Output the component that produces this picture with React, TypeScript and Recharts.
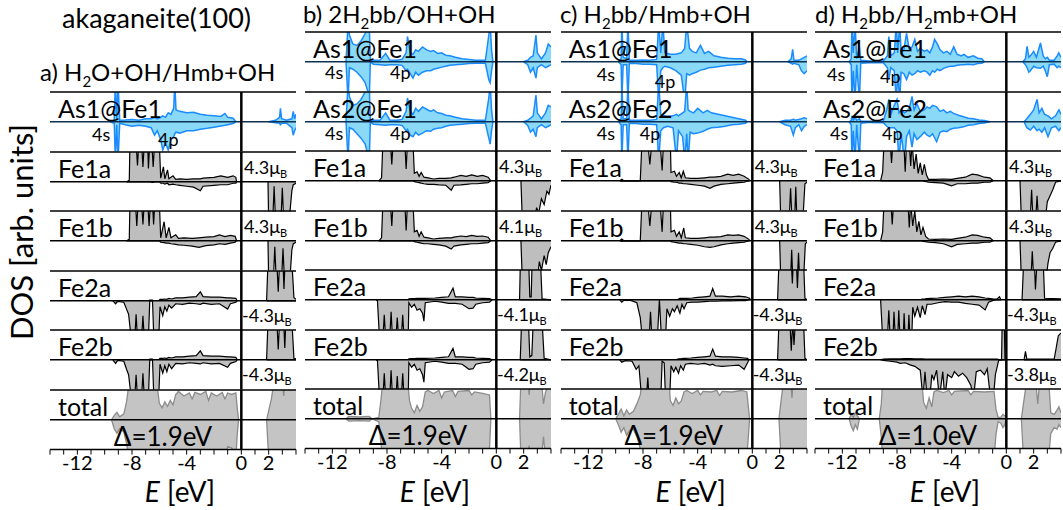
import React from "react";
import { ComposedChart, Area, XAxis, YAxis, ReferenceLine } from "recharts";

// each point: [E (eV), spin-up DOS, spin-down DOS]; |DOS| > 1 runs off the row and is clipped
type Pt = [number, number | null, number | null];

const eTicks = [-14, -13, -12, -11, -10, -9, -8, -7, -6, -5, -4, -3, -2, -1, 0, 1, 2, 3, 4];
const eLabels = [-12, -8, -4, 0, 2];
const dosTicks = [-0.75, -0.5, -0.25, 0, 0.25, 0.5, 0.75];

// ---------- a) H2O+OH/Hmb+OH ----------
const aAs1: Pt[] = [
  [-9.6, 0, 0], [-9.3, 0.05, -0.05], [-9.22, 1.3, -1.3], [-9.12, 0.1, -0.1], [-9.02, 1.3, -1.3], [-8.9, 0.05, -0.05],
  [-8.5, 0.06, -0.1], [-8.0, 0.08, -0.15], [-7.5, 0.05, -0.12], [-7.0, 0.1, -0.15], [-6.6, 0.1, -0.2], [-6.35, 0.15, -0.45],
  [-6.15, 0.1, -0.3], [-5.9, 0.15, -0.6], [-5.75, 0.2, -0.95], [-5.55, 0.15, -0.7], [-5.35, 0.3, -0.95], [-5.15, 0.25, -0.6],
  [-4.95, 0.45, -0.5], [-4.87, 1.3, -0.4], [-4.78, 0.4, -0.35], [-4.5, 0.35, -0.38], [-4.0, 0.3, -0.3], [-3.5, 0.32, -0.3],
  [-3.0, 0.25, -0.25], [-2.5, 0.22, -0.22], [-2.0, 0.2, -0.18], [-1.5, 0.18, -0.14], [-1.2, 0.28, -0.12], [-1.0, 0.15, -0.1],
  [-0.6, 0.12, -0.06], [-0.4, 0, 0], [-0.3, null, null],
  [2.0, 0, 0], [2.5, 0.05, -0.03], [2.8, 0.15, -0.05], [2.86, 0.45, -0.1], [2.95, 0.1, -0.05], [3.3, 0.05, -0.05],
  [3.7, 0.1, -0.2], [3.8, 0.35, -0.45], [3.9, 0.1, -0.3], [4.0, 0.25, -0.2],
];
const aFe1a: Pt[] = [
  [-8.4, 0, 0], [-8.2, 0.05, 0], [-8.15, 1.3, 0], [-7.7, 1.3, 0], [-7.6, 0.55, 0], [-7.5, 1.3, 0], [-7.3, 1.3, 0],
  [-7.2, 0.5, 0], [-7.1, 1.3, 0], [-6.85, 1.3, 0], [-6.8, 0.45, 0], [-6.7, 1.3, 0], [-6.55, 1.3, -0.02], [-6.45, 0.5, -0.02],
  [-6.35, 1.3, 0], [-6.0, 1.3, 0], [-5.9, 0.12, -0.05], [-5.7, 0.5, -0.05], [-5.6, 0.1, -0.08], [-5.4, 0.4, -0.05],
  [-5.3, 0.1, -0.1], [-5.0, 0.2, -0.08], [-4.8, 0.08, -0.1], [-4.5, 0.1, -0.12], [-4.0, 0.08, -0.15], [-3.5, 0.1, -0.18],
  [-3.0, 0.1, -0.3], [-2.8, 0.12, -0.15], [-2.0, 0.15, -0.12], [-1.5, 0.2, -0.1], [-1.0, 0.15, -0.1], [-0.6, 0.2, -0.05],
  [-0.4, 0.15, -0.05], [-0.35, 0, 0], [-0.3, null, null],
  [1.95, 0, 0], [2.0, 0, -1.3], [2.3, 0, -1.3], [2.4, 0, -0.15], [2.5, 0, -1.3], [2.9, 0, -1.3], [3.0, 0, -0.2],
  [3.1, 0, -1.3], [3.5, 0, -1.3], [3.7, 0, -0.3], [3.8, 0, -0.1], [4.0, 0, -0.05],
];
const aFe1b: Pt[] = [
  [-8.4, 0, 0], [-8.2, 0.05, 0], [-8.15, 1.3, 0], [-7.75, 1.3, 0], [-7.65, 0.5, 0], [-7.55, 1.3, 0], [-7.3, 1.3, 0],
  [-7.2, 0.55, 0], [-7.1, 1.3, 0], [-6.85, 1.3, 0], [-6.75, 0.5, 0], [-6.65, 1.3, 0], [-6.5, 1.3, 0], [-6.42, 0.55, 0],
  [-6.33, 1.3, 0], [-6.0, 1.3, 0], [-5.9, 0.1, -0.05], [-5.65, 0.64, -0.06], [-5.5, 0.1, -0.08], [-5.3, 0.45, -0.08],
  [-5.15, 0.1, -0.1], [-4.8, 0.2, -0.12], [-4.6, 0.08, -0.14], [-4.2, 0.1, -0.15], [-3.6, 0.08, -0.18], [-3.1, 0.1, -0.22],
  [-2.6, 0.12, -0.16], [-2.0, 0.14, -0.14], [-1.6, 0.2, -0.1], [-1.2, 0.14, -0.12], [-0.8, 0.18, -0.08], [-0.45, 0.15, -0.05],
  [-0.35, 0, 0], [-0.3, null, null],
  [1.95, 0, 0], [2.0, 0, -1.3], [2.35, 0, -1.3], [2.45, 0, -0.2], [2.55, 0, -1.3], [2.95, 0, -1.3], [3.05, 0, -0.25],
  [3.15, 0, -1.3], [3.55, 0, -1.3], [3.7, 0, -0.3], [3.8, 0, -0.1], [4.0, 0, -0.05],
];
const aFe2a: Pt[] = [
  [-9.4, 0, 0], [-9.2, 0, -0.1], [-9.05, 0, -0.02], [-8.6, 0, -0.05], [-8.4, 0, -0.28], [-8.25, 0, -0.45], [-8.05, 0, -1.3],
  [-7.8, 0, -1.3], [-7.7, 0, -0.45], [-7.6, 0, -1.3], [-7.3, 0, -1.3], [-7.2, 0, -0.5], [-7.1, 0, -1.3], [-6.8, 0, -1.3],
  [-6.7, 0.02, 0], [-6.5, 0.02, 0], [-6.4, 0, -1.3], [-6.05, 0, -1.3], [-5.95, 0.05, -0.2], [-5.75, 0.05, -0.5],
  [-5.6, 0.06, -0.2], [-5.45, 0.05, -0.35], [-5.3, 0.08, -0.15], [-5.1, 0.06, -0.25], [-4.8, 0.1, -0.1], [-4.3, 0.1, -0.12],
  [-3.8, 0.12, -0.08], [-3.3, 0.14, -0.1], [-3.0, 0.3, -0.12], [-2.8, 0.14, -0.08], [-2.2, 0.12, -0.12], [-1.6, 0.12, -0.1],
  [-1.0, 0.1, -0.28], [-0.8, 0.1, -0.1], [-0.4, 0.08, -0.05], [-0.3, 0, 0], [-0.25, null, null],
  [1.85, 0, 0], [1.95, 1.3, 0], [2.6, 1.3, 0], [2.7, 0.3, 0], [2.8, 1.3, 0], [3.05, 1.3, 0], [3.12, 0.4, 0], [3.2, 1.3, 0],
  [3.7, 1.3, 0], [3.85, 0.1, 0], [4.0, 0.05, 0],
];
const aFe2b: Pt[] = [
  [-9.4, 0, 0], [-9.2, 0, -0.12], [-9.05, 0, -0.02], [-8.6, 0, -0.05], [-8.4, 0, -0.32], [-8.25, 0, -0.5], [-8.05, 0, -1.3],
  [-7.8, 0, -1.3], [-7.7, 0, -0.5], [-7.6, 0, -1.3], [-7.3, 0, -1.3], [-7.2, 0, -0.45], [-7.1, 0, -1.3], [-6.8, 0, -1.3],
  [-6.7, 0.02, 0], [-6.5, 0.02, 0], [-6.4, 0, -1.3], [-6.05, 0, -1.3], [-5.95, 0.05, -0.15], [-5.75, 0.05, -0.45],
  [-5.6, 0.06, -0.2], [-5.45, 0.05, -0.4], [-5.3, 0.08, -0.15], [-5.1, 0.06, -0.3], [-4.8, 0.1, -0.12], [-4.3, 0.1, -0.14],
  [-3.8, 0.12, -0.1], [-3.3, 0.14, -0.12], [-3.0, 0.3, -0.14], [-2.8, 0.14, -0.1], [-2.2, 0.12, -0.14], [-1.6, 0.12, -0.12],
  [-1.0, 0.1, -0.25], [-0.8, 0.1, -0.12], [-0.4, 0.08, -0.06], [-0.3, 0, 0], [-0.25, null, null],
  [1.85, 0, 0], [1.95, 1.3, 0], [2.6, 1.3, 0], [2.7, 0.35, 0], [2.8, 1.3, 0], [3.1, 1.3, 0], [3.18, 0.4, 0], [3.26, 1.3, 0],
  [3.7, 1.3, 0], [3.85, 0.05, 0], [4.0, 0.03, 0],
];
const aTot: Pt[] = [
  [-9.5, 0, 0], [-9.3, 0.15, -0.3], [-9.1, 0.25, -0.45], [-8.9, 0.1, -0.3], [-8.6, 0.2, -0.4], [-8.4, 0.6, -0.8],
  [-8.2, 1.3, -1.3], [-6.2, 1.3, -1.3], [-6.0, 0.55, -1.3], [-5.8, 0.4, -1.3], [-5.6, 0.6, -1.3], [-5.4, 0.45, -1.3],
  [-5.2, 0.65, -1.3], [-5.0, 0.5, -1.3], [-4.8, 0.85, -1.3], [-4.6, 0.95, -1.3], [-4.2, 0.8, -1.3], [-3.8, 0.9, -1.3],
  [-3.6, 0.7, -1.3], [-3.4, 0.92, -1.3], [-3.0, 0.85, -1.3], [-2.6, 0.95, -1.3], [-2.4, 0.65, -1.3], [-2.2, 0.9, -1.3],
  [-1.8, 0.8, -1.3], [-1.4, 0.92, -1.3], [-1.2, 0.7, -1.3], [-1.0, 0.9, -0.9], [-0.7, 0.85, -0.95], [-0.4, 0.9, -1.3],
  [-0.3, 0.4, -0.5], [-0.2, 0, 0], [-0.15, null, null],
  [1.85, 0, 0], [2.0, 0.3, -1.3], [2.2, 0.7, -1.3], [2.4, 1.3, -1.3], [3.0, 1.3, -1.3], [3.1, 0.8, -1.3], [3.2, 1.3, -1.3],
  [4.0, 1.3, -1.3],
];

// ---------- b) 2H2bb/OH+OH ----------
const bAs1: Pt[] = [
  [-11.0, 0, 0], [-10.85, 1.3, -1.3], [-10.75, 0.9, -0.2], [-10.5, 0.6, -0.25], [-10.2, 0.55, -0.35], [-9.9, 0.7, -0.5],
  [-9.6, 0.95, -0.7], [-9.4, 1.3, -1.0], [-9.3, 1.3, -1.3], [-9.22, 0, 0], [-9.0, 0.05, -0.08], [-8.5, 0.06, -0.1],
  [-8.1, 0.28, -0.12], [-7.8, 0.06, -0.1], [-7.3, 0.05, -0.1], [-6.9, 0.08, -0.12], [-6.6, 0.3, -0.3], [-6.5, 0.85, -0.25],
  [-6.3, 0.3, -0.4], [-6.1, 0.25, -0.55], [-5.9, 0.4, -0.35], [-5.7, 0.35, -0.45], [-5.4, 0.5, -0.35], [-5.1, 0.4, -0.3],
  [-4.8, 0.35, -0.3], [-4.6, 0.38, -0.25], [-4.3, 0.28, -0.22], [-4.0, 0.3, -0.18], [-3.7, 0.22, -0.15], [-3.4, 0.2, -0.12],
  [-3.0, 0.15, -0.1], [-2.5, 0.1, -0.08], [-2.0, 0.08, -0.06], [-1.5, 0.05, -0.05], [-0.8, 0.05, -0.05], [-0.55, 0.9, -0.6],
  [-0.45, 1.3, -0.7], [-0.35, 0.4, -0.3], [-0.25, 0, 0], [-0.2, null, null],
  [2.0, 0, 0], [2.3, 0.05, -0.1], [2.5, 0.15, -0.35], [2.7, 0.2, -0.2], [2.9, 0.9, -0.55], [3.0, 0.3, -0.2], [3.3, 0.1, -0.1],
  [3.6, 0.3, -0.2], [3.8, 0.6, -0.15], [4.0, 0.5, -0.1],
];
const bAs2: Pt[] = [
  [-11.0, 0, 0], [-10.85, 1.3, -1.3], [-10.75, 0.85, -0.2], [-10.5, 0.55, -0.25], [-10.2, 0.6, -0.4], [-9.9, 0.75, -0.55],
  [-9.6, 1.0, -0.75], [-9.4, 1.3, -1.1], [-9.3, 1.3, -1.3], [-9.22, 0, 0], [-9.0, 0.05, -0.08], [-8.5, 0.05, -0.1],
  [-8.1, 0.3, -0.12], [-7.8, 0.06, -0.1], [-7.3, 0.05, -0.1], [-6.9, 0.08, -0.12], [-6.6, 0.35, -0.3], [-6.5, 0.8, -0.25],
  [-6.3, 0.35, -0.45], [-6.1, 0.25, -0.5], [-5.9, 0.45, -0.35], [-5.7, 0.35, -0.45], [-5.4, 0.5, -0.38], [-5.1, 0.42, -0.3],
  [-4.8, 0.35, -0.32], [-4.6, 0.4, -0.25], [-4.3, 0.3, -0.22], [-4.0, 0.28, -0.2], [-3.7, 0.22, -0.15], [-3.4, 0.2, -0.12],
  [-3.0, 0.15, -0.1], [-2.5, 0.1, -0.08], [-2.0, 0.08, -0.06], [-1.5, 0.05, -0.05], [-0.8, 0.05, -0.05], [-0.55, 0.8, -0.55],
  [-0.45, 1.3, -0.75], [-0.35, 0.4, -0.3], [-0.25, 0, 0], [-0.2, null, null],
  [2.0, 0, 0], [2.3, 0.05, -0.12], [2.5, 0.12, -0.35], [2.7, 0.2, -0.25], [2.9, 0.9, -0.5], [3.0, 0.3, -0.2], [3.3, 0.1, -0.1],
  [3.6, 0.3, -0.2], [3.8, 0.55, -0.15], [4.0, 0.5, -0.1],
];
const bFe1a: Pt[] = [
  [-8.6, 0, 0], [-8.4, 0.1, 0], [-8.3, 1.3, 0], [-7.75, 1.3, 0], [-7.65, 0.55, 0], [-7.55, 1.3, 0], [-6.7, 1.3, 0],
  [-6.6, 0.4, 0], [-6.5, 1.3, 0], [-6.1, 1.3, 0], [-6.0, 0.25, -0.03], [-5.8, 0.3, -0.05], [-5.65, 0.15, -0.06],
  [-5.5, 0.28, -0.08], [-5.3, 0.12, -0.1], [-5.0, 0.1, -0.12], [-4.6, 0.06, -0.12], [-4.2, 0.08, -0.14], [-3.7, 0.08, -0.15],
  [-3.3, 0.1, -0.32], [-3.1, 0.12, -0.15], [-2.6, 0.18, -0.14], [-2.2, 0.15, -0.12], [-1.8, 0.2, -0.1], [-1.4, 0.15, -0.1],
  [-1.0, 0.18, -0.08], [-0.6, 0.12, -0.06], [-0.4, 0, 0], [-0.3, null, null],
  [1.8, 0, 0], [1.9, 0, -1.3], [2.8, 0, -1.3], [2.95, 0, -0.9], [3.1, 0, -1.1], [3.3, 0, -0.6], [3.5, 0, -0.8],
  [3.7, 0, -0.35], [3.85, 0, -0.45], [4.0, 0, -0.15],
];
const bFe1b: Pt[] = [
  [-8.6, 0, 0], [-8.4, 0.1, 0], [-8.3, 1.3, 0], [-7.75, 1.3, 0], [-7.65, 0.5, 0], [-7.55, 1.3, 0], [-6.7, 1.3, 0],
  [-6.6, 0.35, 0], [-6.5, 1.3, 0], [-6.1, 1.3, 0], [-6.0, 0.3, -0.03], [-5.8, 0.35, -0.05], [-5.65, 0.15, -0.06],
  [-5.5, 0.3, -0.08], [-5.3, 0.12, -0.1], [-5.0, 0.1, -0.1], [-4.6, 0.06, -0.12], [-4.2, 0.08, -0.14], [-3.7, 0.1, -0.18],
  [-3.3, 0.1, -0.28], [-3.1, 0.12, -0.18], [-2.6, 0.16, -0.14], [-2.2, 0.14, -0.12], [-1.8, 0.18, -0.1], [-1.4, 0.15, -0.1],
  [-1.0, 0.16, -0.08], [-0.6, 0.12, -0.06], [-0.4, 0, 0], [-0.3, null, null],
  [1.8, 0, 0], [1.9, 0, -1.3], [3.0, 0, -1.3], [3.15, 0, -0.7], [3.3, 0, -1.0], [3.5, 0, -0.5], [3.65, 0, -0.8],
  [3.8, 0, -0.4], [4.0, 0, -0.2],
];
const bFe2a: Pt[] = [
  [-8.8, 0, 0], [-8.7, 0, -0.02], [-8.55, 0, -1.3], [-8.3, 0, -1.3], [-8.2, 0, -0.5], [-8.1, 0, -1.3], [-7.8, 0, -1.3],
  [-7.7, 0, -0.4], [-7.6, 0, -1.3], [-7.35, 0, -1.3], [-7.25, 0, -0.6], [-7.15, 0, -1.3], [-6.95, 0, -1.3], [-6.85, 0, -0.5],
  [-6.75, 0, -1.3], [-6.45, 0, -1.3], [-6.4, 0.03, -0.1], [-6.2, 0.04, -0.25], [-6.0, 0.04, -0.15], [-5.8, 0.05, -0.35],
  [-5.6, 0.05, -0.3], [-5.4, 0.05, -0.45], [-5.3, 0.05, -0.72], [-5.2, 0.05, -0.1], [-4.5, 0.06, -0.05], [-4.0, 0.08, -0.08],
  [-3.5, 0.1, -0.12], [-3.17, 0.39, -0.12], [-3.0, 0.1, -0.12], [-2.5, 0.1, -0.15], [-2.0, 0.08, -0.3], [-1.7, 0.08, -0.28],
  [-1.5, 0.06, -0.15], [-1.0, 0.05, -0.1], [-0.5, 0.04, -0.08], [-0.3, 0, 0], [-0.25, null, null],
  [1.7, 0, 0], [1.76, 1.3, 0], [2.37, 1.3, 0], [2.45, 0.1, 0], [2.55, 0.1, 0], [2.62, 1.3, 0], [3.23, 1.3, 0],
  [3.35, 0.03, 0], [4.0, 0, 0],
];
const bFe2b: Pt[] = [
  [-8.8, 0, 0], [-8.7, 0, -0.02], [-8.55, 0, -1.3], [-8.3, 0, -1.3], [-8.2, 0, -0.45], [-8.1, 0, -1.3], [-7.8, 0, -1.3],
  [-7.7, 0, -0.35], [-7.6, 0, -1.3], [-7.35, 0, -1.3], [-7.25, 0, -0.55], [-7.15, 0, -1.3], [-6.95, 0, -1.3], [-6.85, 0, -0.45],
  [-6.75, 0, -1.3], [-6.45, 0, -1.3], [-6.4, 0.03, -0.1], [-6.2, 0.04, -0.25], [-6.0, 0.04, -0.15], [-5.8, 0.05, -0.35],
  [-5.6, 0.05, -0.3], [-5.4, 0.05, -0.5], [-5.3, 0.05, -0.75], [-5.2, 0.05, -0.1], [-4.5, 0.06, -0.05], [-4.0, 0.08, -0.08],
  [-3.5, 0.1, -0.12], [-3.17, 0.38, -0.12], [-3.0, 0.1, -0.12], [-2.5, 0.1, -0.15], [-2.0, 0.08, -0.32], [-1.7, 0.08, -0.3],
  [-1.5, 0.06, -0.15], [-1.0, 0.05, -0.1], [-0.5, 0.04, -0.08], [-0.3, 0, 0], [-0.25, null, null],
  [1.75, 0, 0], [1.85, 1.3, 0], [2.35, 1.3, 0], [2.45, 0.1, 0], [2.6, 0.15, 0], [2.7, 1.3, 0], [3.35, 1.3, 0],
  [3.5, 0.05, 0], [4.0, 0, 0],
];
const bTot: Pt[] = [
  [-11.0, 0, 0], [-10.8, 0.08, -0.08], [-10.0, 0.06, -0.06], [-9.3, 0.08, -0.08], [-9.1, 0, 0], [-8.6, 0.05, -0.1],
  [-8.45, 0.6, -0.8], [-8.3, 1.3, -1.3], [-6.5, 1.3, -1.3], [-6.35, 0.6, -1.3], [-6.2, 0.35, -1.3], [-6.0, 0.2, -1.3],
  [-5.8, 0.45, -1.3], [-5.6, 0.25, -1.3], [-5.4, 0.4, -1.3], [-5.2, 0.9, -1.3], [-5.0, 0.95, -1.3], [-4.6, 0.85, -1.3],
  [-4.2, 0.95, -1.3], [-4.0, 0.7, -1.3], [-3.8, 0.9, -1.3], [-3.2, 0.95, -1.3], [-3.0, 0.75, -1.3], [-2.8, 0.92, -1.3],
  [-2.0, 0.95, -1.3], [-1.8, 0.8, -1.3], [-1.6, 0.9, -1.3], [-1.0, 0.85, -1.3], [-0.5, 0.8, -1.0], [-0.4, 0, 0],
  [-0.35, null, null],
  [1.7, 0, 0], [1.8, 1.3, -1.3], [2.3, 1.3, -1.3], [2.4, 0.8, -0.9], [2.5, 1.3, -1.3], [3.3, 1.3, -1.3], [3.45, 0.5, -0.6],
  [3.6, 0.9, -1.3], [4.0, 1.3, -1.3],
];

// ---------- c) H2bb/Hmb+OH ----------
const cAs1: Pt[] = [
  [-9.8, 0, 0], [-9.6, 0.1, -0.1], [-9.55, 1.3, -1.3], [-9.45, 0.15, -0.1], [-9.2, 0.1, -0.1], [-9.1, 1.3, -1.3],
  [-9.0, 0.05, -0.05], [-8.5, 0.05, -0.06], [-8.0, 0.06, -0.08], [-7.5, 0.05, -0.08], [-7.0, 0.08, -0.1], [-6.85, 1.3, -1.3],
  [-6.7, 0.3, -0.3], [-6.55, 1.3, -0.2], [-6.4, 0.3, -0.15], [-6.0, 0.25, -0.2], [-5.6, 0.25, -0.3], [-5.2, 0.3, -0.45],
  [-4.95, 0.45, -1.3], [-4.8, 1.3, -0.4], [-4.6, 0.45, -0.45], [-4.4, 0.35, -0.4], [-4.1, 0.3, -0.35], [-3.8, 0.55, -0.28],
  [-3.5, 0.28, -0.25], [-3.2, 0.35, -0.2], [-2.8, 0.2, -0.18], [-2.3, 0.15, -0.15], [-1.8, 0.12, -0.12], [-1.3, 0.1, -0.1],
  [-0.8, 0.1, -0.08], [-0.5, 0.06, -0.05], [-0.4, 0, 0], [-0.35, null, null],
  [2.6, 0, 0], [2.85, 0.1, -0.05], [2.95, 0.42, -0.08], [3.05, 0.05, -0.05], [3.4, 0.05, -0.1], [3.6, 0.1, -0.3],
  [3.8, 0.15, -0.4], [4.0, 0.2, -0.3],
];
const cAs2: Pt[] = [
  [-9.8, 0, 0], [-9.6, 0.1, -0.1], [-9.55, 1.3, -1.3], [-9.45, 0.1, -0.1], [-9.2, 0.1, -0.1], [-9.1, 1.3, -1.3],
  [-9.0, 0.05, -0.05], [-8.5, 0.05, -0.06], [-8.0, 0.05, -0.08], [-7.5, 0.05, -0.08], [-7.0, 0.08, -0.1], [-6.85, 1.3, -1.3],
  [-6.7, 0.25, -0.3], [-6.5, 0.2, -0.2], [-6.2, 0.18, -0.15], [-5.8, 0.2, -0.2], [-5.55, 0.25, -1.3], [-5.4, 0.2, -0.3],
  [-5.1, 0.3, -0.5], [-4.95, 0.35, -1.3], [-4.8, 1.3, -0.4], [-4.7, 0.4, -1.3], [-4.55, 0.35, -0.35], [-4.3, 0.3, -0.4],
  [-4.0, 0.45, -0.38], [-3.6, 0.3, -0.32], [-3.3, 0.38, -0.25], [-3.0, 0.3, -0.2], [-2.5, 0.25, -0.18], [-2.0, 0.2, -0.15],
  [-1.5, 0.15, -0.1], [-1.0, 0.1, -0.08], [-0.5, 0.05, -0.05], [-0.4, 0, 0], [-0.35, null, null],
  [2.0, 0, 0], [2.4, 0.05, -0.1], [2.8, 0.05, -0.15], [3.0, 0.08, -0.45], [3.15, 0.05, -0.2], [3.4, 0.08, -0.1],
  [3.6, 0.1, -0.3], [3.8, 0.13, -0.15], [4.0, 0.1, -0.1],
];
const cFe1a: Pt[] = [
  [-9.7, 0, 0], [-9.55, 0.05, -0.02], [-9.4, 0, 0], [-8.2, 0, 0], [-8.08, 1.3, 0], [-7.65, 1.3, 0], [-7.5, 0.55, 0],
  [-7.35, 1.3, 0], [-6.75, 1.3, 0], [-6.6, 0.35, 0], [-6.5, 1.3, 0], [-6.0, 1.3, 0], [-5.95, 0.28, -0.03], [-5.7, 0.32, -0.05],
  [-5.55, 0.15, -0.05], [-5.35, 0.28, -0.08], [-5.2, 0.1, -0.08], [-5.05, 0.32, -0.1], [-4.9, 0.1, -0.1], [-4.5, 0.08, -0.12],
  [-4.0, 0.08, -0.15], [-3.5, 0.1, -0.18], [-3.1, 0.12, -0.25], [-2.8, 0.12, -0.18], [-2.3, 0.15, -0.12], [-1.8, 0.22, -0.1],
  [-1.4, 0.18, -0.08], [-1.0, 0.22, -0.06], [-0.6, 0.15, -0.05], [-0.25, 0.05, 0], [-0.2, 0, 0], [-0.15, null, null],
  [2.0, 0, 0], [2.08, 0, -1.3], [2.7, 0, -1.3], [2.8, 0, -0.25], [2.9, 0, -1.3], [3.1, 0, -1.3], [3.18, 0, -0.2],
  [3.26, 0, -1.3], [3.7, 0, -1.3], [3.85, 0, -0.1], [4.0, 0, -0.05],
];
const cFe1b: Pt[] = [
  [-9.7, 0, 0], [-9.55, 0.06, -0.02], [-9.4, 0, 0], [-8.2, 0, 0], [-8.08, 1.3, 0], [-7.65, 1.3, 0], [-7.5, 0.5, 0],
  [-7.35, 1.3, 0], [-6.75, 1.3, 0], [-6.6, 0.3, 0], [-6.5, 1.3, 0], [-6.0, 1.3, 0], [-5.95, 0.3, -0.03], [-5.7, 0.35, -0.05],
  [-5.55, 0.15, -0.06], [-5.35, 0.3, -0.08], [-5.2, 0.1, -0.08], [-5.02, 0.43, -0.1], [-4.9, 0.1, -0.1], [-4.5, 0.08, -0.12],
  [-4.0, 0.08, -0.15], [-3.5, 0.1, -0.2], [-3.1, 0.12, -0.22], [-2.8, 0.12, -0.2], [-2.3, 0.14, -0.14], [-1.8, 0.2, -0.1],
  [-1.4, 0.18, -0.08], [-1.0, 0.2, -0.06], [-0.6, 0.15, -0.05], [-0.25, 0.05, 0], [-0.2, 0, 0], [-0.15, null, null],
  [2.0, 0, 0], [2.08, 0, -1.3], [2.8, 0, -1.3], [2.88, 0, -0.3], [2.96, 0, -1.3], [3.3, 0, -1.3], [3.38, 0, -0.4],
  [3.46, 0, -1.3], [3.75, 0, -1.3], [3.88, 0, -0.1], [4.0, 0, -0.05],
];
const cFe2a: Pt[] = [
  [-9.7, 0, 0], [-9.55, 0, -0.08], [-9.4, 0, -0.02], [-8.9, 0, -0.02], [-8.45, 0, -0.1], [-8.2, 0, -0.6], [-8.05, 0, -1.3],
  [-7.55, 0, -1.3], [-7.45, 0, -0.4], [-7.35, 0, -1.3], [-6.95, 0, -1.3], [-6.8, 0, 0], [-6.65, 0, -1.3], [-6.35, 0, -1.3],
  [-6.25, 0, -0.3], [-6.05, 0, -0.55], [-5.85, 0, -0.3], [-5.7, 0, -0.4], [-5.5, 0, -0.2], [-5.3, 0.05, -0.45],
  [-5.15, 0.05, -0.15], [-5.0, 0.05, -0.3], [-4.8, 0.05, -0.1], [-4.4, 0.06, -0.08], [-4.0, 0.08, -0.08], [-3.5, 0.1, -0.06],
  [-3.1, 0.12, -0.05], [-2.9, 0.38, -0.05], [-2.7, 0.12, -0.05], [-2.2, 0.12, -0.04], [-1.6, 0.1, -0.04], [-1.0, 0.12, -0.03],
  [-0.5, 0.1, -0.03], [-0.2, 0.05, 0], [-0.15, 0, 0], [-0.1, null, null],
  [1.85, 0, 0], [1.95, 1.3, 0], [2.85, 1.3, 0], [2.93, 0.55, 0], [3.0, 1.3, 0], [3.22, 1.3, 0], [3.3, 0.4, 0],
  [3.38, 1.3, 0], [3.75, 1.3, 0], [3.85, 0.05, 0], [4.0, 0, 0],
];
const cFe2b: Pt[] = [
  [-9.7, 0, 0], [-9.55, 0, -0.08], [-9.3, 0, -0.03], [-8.8, 0, -0.05], [-8.5, 0, -0.32], [-8.3, 0, -0.2], [-8.1, 0, -1.3],
  [-7.75, 0, -1.3], [-7.65, 0, -0.6], [-7.55, 0, -1.3], [-6.7, 0, -1.3], [-6.6, 0, -0.05], [-6.45, 0, -0.1], [-6.35, 0, -1.3],
  [-6.05, 0, -1.3], [-5.95, 0, -0.2], [-5.75, 0, -0.4], [-5.6, 0, -0.25], [-5.4, 0.03, -0.45], [-5.25, 0.03, -0.2],
  [-5.05, 0.05, -0.35], [-4.9, 0.05, -0.15], [-4.5, 0.06, -0.12], [-4.0, 0.08, -0.15], [-3.5, 0.1, -0.12], [-3.1, 0.12, -0.18],
  [-2.9, 0.36, -0.15], [-2.7, 0.12, -0.2], [-2.2, 0.1, -0.22], [-1.6, 0.1, -0.2], [-1.0, 0.08, -0.18], [-0.6, 0.06, -0.32],
  [-0.35, 0.05, -0.1], [-0.25, 0, 0], [-0.2, null, null],
  [1.85, 0, 0], [1.95, 1.3, 0], [2.75, 1.3, 0], [2.85, 0.3, 0], [2.95, 1.3, 0], [3.05, 0.5, 0], [3.15, 1.3, 0],
  [3.75, 1.3, 0], [3.85, 0.05, 0], [4.0, 0, 0],
];
const cTot: Pt[] = [
  [-10.0, 0, 0], [-9.8, 0.15, -0.2], [-9.6, 0.33, -0.45], [-9.4, 0.1, -0.3], [-9.2, 0.3, -0.55], [-9.0, 0.15, -0.4],
  [-8.7, 0.25, -0.35], [-8.45, 0.5, -0.6], [-8.2, 0.8, -1.0], [-8.05, 1.3, -1.3], [-6.1, 1.3, -1.3], [-6.0, 0.6, -1.3],
  [-5.8, 0.45, -1.3], [-5.6, 0.7, -1.3], [-5.4, 0.5, -1.3], [-5.2, 0.6, -1.3], [-5.0, 0.9, -1.3], [-4.8, 0.95, -1.3],
  [-4.4, 0.85, -1.3], [-4.0, 0.95, -1.3], [-3.8, 0.8, -1.3], [-3.6, 0.92, -1.3], [-3.0, 0.9, -1.3], [-2.6, 0.95, -1.3],
  [-2.4, 0.78, -1.3], [-2.2, 0.92, -1.3], [-1.5, 0.9, -1.3], [-0.8, 0.95, -1.3], [-0.4, 0.9, -1.3], [-0.2, 0, 0],
  [-0.15, null, null],
  [1.95, 0, 0], [2.1, 0.6, -1.3], [2.3, 1.3, -1.3], [2.8, 1.3, -1.3], [2.9, 0.7, -1.3], [3.0, 1.3, -1.3], [4.0, 1.3, -1.3],
];

// ---------- d) H2bb/H2mb+OH ----------
const dAs1: Pt[] = [
  [-11.5, 0, 0], [-11.35, 0.1, -0.1], [-11.3, 1.3, -1.3], [-11.2, 0.3, -0.3], [-11.07, 1.3, -1.3], [-10.95, 0.1, -0.1],
  [-10.75, 0.5, -1.3], [-10.65, 0.05, -0.05], [-10.0, 0.03, -0.03], [-9.0, 0.03, -0.03], [-8.7, 0.2, -0.2], [-8.6, 0.85, -0.6],
  [-8.45, 0.2, -0.2], [-8.2, 0.3, -0.3], [-8.05, 1.3, -1.3], [-7.95, 0.3, -0.4], [-7.8, 1.3, -1.3], [-7.7, 0.3, -0.35],
  [-7.5, 0.4, -0.4], [-7.3, 0.95, -0.6], [-7.1, 0.4, -0.35], [-6.9, 0.5, -0.45], [-6.7, 0.75, -0.4], [-6.5, 0.35, -0.3],
  [-6.3, 0.45, -0.35], [-6.0, 0.35, -0.3], [-5.8, 0.4, -0.35], [-5.6, 0.3, -0.45], [-5.4, 0.5, -0.3], [-5.25, 0.75, -0.35],
  [-5.05, 0.6, -0.25], [-4.85, 0.4, -0.3], [-4.6, 0.3, -0.22], [-4.35, 0.35, -0.18], [-4.1, 0.25, -0.15], [-3.85, 0.5, -0.15],
  [-3.6, 0.25, -0.12], [-3.3, 0.2, -0.1], [-3.1, 0.25, -0.1], [-2.8, 0.15, -0.08], [-2.4, 0.2, -0.1], [-2.1, 0.12, -0.06],
  [-1.8, 0.1, -0.05], [-1.6, 0, 0], [-1.5, null, null],
  [1.2, 0, 0], [1.4, 0.1, -0.1], [1.52, 0.52, -0.2], [1.65, 0.15, -0.35], [1.76, 0.2, -0.3], [2.0, 0.35, -0.15],
  [2.2, 0.15, -0.2], [2.5, 0.63, -0.22], [2.7, 0.2, -0.15], [2.85, 0.1, -0.3], [3.0, 0.15, -0.5], [3.15, 0.05, -0.1],
  [3.5, 0.05, -0.08], [3.72, 0.2, -0.2], [3.84, 0.3, -0.15], [4.0, 0.15, -0.2],
];
const dAs2: Pt[] = [
  [-11.5, 0, 0], [-11.35, 0.05, -0.1], [-11.3, 0.2, -1.3], [-11.2, 0.05, -0.3], [-11.07, 0.15, -1.3], [-10.95, 0.05, -0.1],
  [-10.75, 0.1, -1.3], [-10.65, 0.03, -0.05], [-10.0, 0.02, -0.02], [-9.0, 0.03, -0.03], [-8.75, 0.4, -0.15],
  [-8.6, 0.75, -0.2], [-8.4, 0.3, -0.2], [-8.2, 0.55, -0.2], [-8.0, 0.75, -0.3], [-7.85, 0.3, -1.3], [-7.7, 0.4, -0.4],
  [-7.45, 0.3, -1.3], [-7.3, 0.35, -0.5], [-7.1, 0.45, -0.3], [-6.9, 0.85, -0.85], [-6.75, 0.4, -0.4], [-6.55, 0.6, -0.6],
  [-6.3, 0.35, -0.5], [-6.0, 0.4, -0.35], [-5.8, 0.5, -0.45], [-5.6, 0.45, -0.5], [-5.4, 0.55, -0.4], [-5.1, 0.5, -0.67],
  [-4.85, 0.35, -0.35], [-4.6, 0.4, -0.3], [-4.35, 0.3, -0.33], [-4.1, 0.35, -0.25], [-3.86, 0.28, -0.22], [-3.5, 0.22, -0.2],
  [-3.13, 0.17, -0.17], [-2.8, 0.12, -0.12], [-2.4, 0.1, -0.1], [-2.0, 0.06, -0.06], [-1.6, 0.04, -0.04], [-1.2, 0, 0],
  [-1.1, null, null],
  [1.3, 0, 0], [1.5, 0.1, -0.2], [1.76, 0.25, -0.28], [2.0, 0.4, -0.15], [2.25, 0.75, -0.3], [2.4, 0.3, -0.25],
  [2.6, 0.45, -0.35], [2.8, 0.25, -0.2], [3.05, 0.2, -0.5], [3.3, 0.1, -0.2], [3.6, 0.2, -0.15], [3.85, 0.4, -0.3],
  [4.0, 0.25, -0.2],
];
const dFe1a: Pt[] = [
  [-9.2, 0, 0], [-9.05, 0.3, 0], [-8.95, 1.3, 0], [-8.5, 1.3, 0], [-8.4, 0.6, 0], [-8.3, 1.3, 0], [-7.5, 1.3, 0],
  [-7.4, 0.3, 0], [-7.3, 1.3, 0], [-7.1, 1.3, 0], [-7.0, 0.5, 0], [-6.9, 1.3, 0], [-6.75, 0.4, 0], [-6.6, 0.9, 0],
  [-6.45, 0.25, 0], [-6.3, 0.6, 0], [-6.15, 0.2, 0], [-6.0, 0.55, -0.02], [-5.85, 0.2, -0.03], [-5.7, 0.05, -0.05],
  [-5.2, 0.05, -0.06], [-4.6, 0.06, -0.08], [-4.0, 0.05, -0.17], [-3.6, 0.08, -0.1], [-3.0, 0.12, -0.1], [-2.5, 0.22, -0.08],
  [-2.1, 0.2, -0.08], [-1.6, 0.12, -0.05], [-1.2, 0.1, -0.05], [-0.95, 0, 0], [-0.9, null, null],
  [1.0, 0, 0], [1.1, 0, -1.3], [1.75, 0, -1.3], [1.85, 0, -0.3], [1.95, 0, -1.3], [2.15, 0, -1.3], [2.25, 0, -0.5],
  [2.35, 0, -1.3], [2.85, 0, -1.3], [3.0, 0, -0.7], [3.2, 0, -0.5], [3.4, 0, -0.3], [3.6, 0, -0.05], [4.0, 0, 0],
];
const dFe1b: Pt[] = [
  [-9.2, 0, 0], [-9.05, 0.3, 0], [-8.95, 1.3, 0], [-8.45, 1.3, 0], [-8.35, 0.55, 0], [-8.25, 1.3, 0], [-7.2, 1.3, 0],
  [-7.1, 0.45, 0], [-7.0, 1.3, 0], [-6.85, 0.5, 0], [-6.7, 1.0, 0], [-6.55, 0.3, 0], [-6.4, 0.65, 0], [-6.25, 0.2, 0],
  [-6.1, 0.45, -0.02], [-5.9, 0.15, -0.03], [-5.7, 0.06, -0.05], [-5.2, 0.05, -0.06], [-4.6, 0.06, -0.1], [-4.0, 0.05, -0.2],
  [-3.6, 0.08, -0.12], [-3.0, 0.12, -0.1], [-2.5, 0.2, -0.08], [-2.1, 0.18, -0.08], [-1.6, 0.12, -0.05], [-1.2, 0.1, -0.05],
  [-0.95, 0, 0], [-0.9, null, null],
  [1.0, 0, 0], [1.1, 0, -1.3], [1.8, 0, -1.3], [1.9, 0, -0.35], [2.0, 0, -1.3], [2.9, 0, -1.3], [3.05, 0, -0.75],
  [3.2, 0, -0.4], [3.4, 0, -0.25], [3.6, 0, -0.05], [4.0, 0, 0],
];
const dFe2a: Pt[] = [
  [-9.2, 0, 0], [-9.05, 0, -1.3], [-8.7, 0, -1.3], [-8.6, 0, -0.35], [-8.5, 0, -1.3], [-8.3, 0, -1.3], [-8.22, 0, -0.4],
  [-8.12, 0, -1.3], [-7.95, 0, -1.3], [-7.87, 0, -0.35], [-7.78, 0, -1.3], [-7.55, 0, -1.3], [-7.48, 0, -0.45], [-7.4, 0, -1.3],
  [-7.2, 0, -1.3], [-7.13, 0, -0.5], [-7.05, 0, -1.3], [-6.92, 0, -1.3], [-6.85, 0, -0.25], [-6.7, 0, -0.55], [-6.5, 0, -0.25],
  [-6.3, 0, -0.6], [-6.15, 0.02, -0.2], [-5.95, 0.03, -0.5], [-5.8, 0.04, -0.15], [-5.5, 0.05, -0.15], [-5.0, 0.06, -0.1],
  [-4.5, 0.08, -0.06], [-4.0, 0.1, -0.08], [-3.5, 0.12, -0.08], [-3.0, 0.1, -0.12], [-2.5, 0.12, -0.15], [-2.0, 0.1, -0.18],
  [-1.55, 0.06, -0.34], [-1.3, 0.05, -0.08], [-1.0, 0.03, -0.03], [-0.7, 0.02, 0], [-0.5, 0.1, 0], [-0.4, 0, 0],
  [-0.35, null, null],
  [1.15, 0, 0], [1.27, 1.3, 0], [2.05, 1.3, 0], [2.13, 0.35, 0], [2.25, 1.3, 0], [2.7, 1.3, 0], [2.8, 0.05, 0], [4.0, 0.03, 0],
];
const dFe2b: Pt[] = [
  [-9.2, 0, 0], [-9.0, 0.02, -0.02], [-8.5, 0.03, -0.05], [-8.0, 0.03, -0.08], [-7.77, 0.03, -0.12], [-7.4, 0.04, -0.1],
  [-7.04, 0.04, -0.17], [-6.7, 0.03, -0.22], [-6.3, 0.03, -0.35], [-6.1, 0.03, -1.3], [-5.95, 0.02, -0.4], [-5.8, 0.02, -1.3],
  [-5.6, 0.02, -1.3], [-5.45, 0.02, -0.5], [-5.3, 0.02, -0.67], [-5.1, 0.02, -0.35], [-4.9, 0.02, -1.3], [-4.65, 0.02, -0.4],
  [-4.5, 0.02, -1.3], [-4.3, 0.02, -0.5], [-4.0, 0.02, -0.6], [-3.8, 0.02, -0.4], [-3.5, 0.02, -0.55], [-3.2, 0.02, -0.45],
  [-2.9, 0.02, -0.6], [-2.6, 0.02, -0.85], [-2.4, 0.02, -1.3], [-2.2, 0.02, -0.4], [-1.9, 0.02, -0.35], [-1.6, 0.02, -0.5],
  [-1.4, 0.02, -0.3], [-1.15, 0.02, -1.3], [-0.95, 0.02, -1.3], [-0.8, 0.02, -0.5], [-0.65, 0.02, -0.2], [-0.55, 0, 0],
  [-0.35, 0, 0], [-0.3, 1.3, 0], [-0.15, 1.3, 0], [-0.1, 0, 0], [-0.05, null, null],
  [1.3, 0, 0], [1.4, 0.28, 0], [1.5, 0.02, 0], [3.5, 0.02, 0], [3.65, 0.4, 0], [3.8, 0.8, 0], [4.0, 0.9, 0],
];
const dTot: Pt[] = [
  [-11.5, 0, 0], [-11.35, 0.15, -0.25], [-11.2, 0.05, -0.4], [-11.05, 0.2, -0.2], [-10.9, 0.1, -0.35], [-10.75, 0, 0],
  [-9.3, 0, 0], [-9.15, 0.5, -0.6], [-9.05, 1.3, -1.3], [-6.2, 1.3, -1.3], [-6.05, 0.55, -1.3], [-5.85, 0.35, -1.3],
  [-5.65, 0.7, -1.3], [-5.45, 0.4, -1.3], [-5.3, 0.9, -1.3], [-5.1, 0.95, -1.3], [-4.6, 0.88, -1.3], [-4.2, 0.95, -1.3],
  [-4.0, 0.8, -1.3], [-3.8, 0.92, -1.3], [-2.8, 0.95, -1.3], [-2.6, 0.8, -1.3], [-2.4, 0.92, -1.3], [-1.6, 0.9, -1.3],
  [-0.9, 0.92, -1.3], [-0.75, 0.3, -0.5], [-0.6, 0.05, -0.1], [-0.4, 0.05, -0.15], [-0.25, 0.15, -0.3], [-0.1, 0.1, -0.2],
  [0, 0, 0], [0.05, null, null],
  [1.1, 0, 0], [1.25, 0.5, -1.3], [1.5, 1.3, -1.3], [2.15, 1.3, -1.3], [2.3, 0.5, -1.3], [2.45, 1.3, -1.3], [3.1, 1.3, -1.3],
  [3.25, 0.2, -0.5], [3.5, 0.15, -0.3], [3.72, 0.3, -0.35], [3.85, 0.4, -0.2], [4.0, 0.2, -0.3],
];

type Kind = "as" | "fe" | "tot";
interface RowDef {
  pts: Pt[];
  kind: Kind;
  label: string;
  mom?: string;
  gap?: string;
  s4?: [number, number, number, number]; // 4s x, baseline, 4p x, baseline (px inside row)
}
interface PanelDef {
  left: number;
  top: number;
  title: [string, boolean][]; // text pieces, true = subscript
  titleX: number;
  titleY: number;
  rows: RowDef[];
}

const panels: PanelDef[] = [
  {
    left: 50, top: 92, titleX: 40, titleY: 81,
    title: [["a) H", false], ["2", true], ["O+OH/Hmb+OH", false]],
    rows: [
      { pts: aAs1, kind: "as", label: "As1@Fe1", s4: [42, 49, 108, 54] },
      { pts: aFe1a, kind: "fe", label: "Fe1a", mom: "4.3" },
      { pts: aFe1b, kind: "fe", label: "Fe1b", mom: "4.3" },
      { pts: aFe2a, kind: "fe", label: "Fe2a", mom: "-4.3" },
      { pts: aFe2b, kind: "fe", label: "Fe2b", mom: "-4.3" },
      { pts: aTot, kind: "tot", label: "total", gap: "1.9" },
    ],
  },
  {
    left: 305, top: 32, titleX: 303, titleY: 23,
    title: [["b) 2H", false], ["2", true], ["bb/OH+OH", false]],
    rows: [
      { pts: bAs1, kind: "as", label: "As1@Fe1", s4: [20, 47, 85, 47] },
      { pts: bAs2, kind: "as", label: "As2@Fe1", s4: [20, 48, 85, 48] },
      { pts: bFe1a, kind: "fe", label: "Fe1a", mom: "4.3" },
      { pts: bFe1b, kind: "fe", label: "Fe1b", mom: "4.1" },
      { pts: bFe2a, kind: "fe", label: "Fe2a", mom: "-4.1" },
      { pts: bFe2b, kind: "fe", label: "Fe2b", mom: "-4.2" },
      { pts: bTot, kind: "tot", label: "total", gap: "1.9" },
    ],
  },
  {
    left: 560.7, top: 32, titleX: 560, titleY: 23,
    title: [["c) H", false], ["2", true], ["bb/Hmb+OH", false]],
    rows: [
      { pts: cAs1, kind: "as", label: "As1@Fe1", s4: [36, 49, 94, 56] },
      { pts: cAs2, kind: "as", label: "As2@Fe2", s4: [36, 48, 79, 48] },
      { pts: cFe1a, kind: "fe", label: "Fe1a", mom: "4.3" },
      { pts: cFe1b, kind: "fe", label: "Fe1b", mom: "4.3" },
      { pts: cFe2a, kind: "fe", label: "Fe2a", mom: "-4.3" },
      { pts: cFe2b, kind: "fe", label: "Fe2b", mom: "-4.3" },
      { pts: cTot, kind: "tot", label: "total", gap: "1.9" },
    ],
  },
  {
    left: 815, top: 32, titleX: 815, titleY: 23,
    title: [["d) H", false], ["2", true], ["bb/H", false], ["2", true], ["mb+OH", false]],
    rows: [
      { pts: dAs1, kind: "as", label: "As1@Fe1", s4: [12, 49, 65, 51] },
      { pts: dAs2, kind: "as", label: "As2@Fe2", s4: [15, 48, 67, 48] },
      { pts: dFe1a, kind: "fe", label: "Fe1a", mom: "4.3" },
      { pts: dFe1b, kind: "fe", label: "Fe1b", mom: "4.3" },
      { pts: dFe2a, kind: "fe", label: "Fe2a", mom: "-4.3" },
      { pts: dFe2b, kind: "fe", label: "Fe2b", mom: "-3.8" },
      { pts: dTot, kind: "tot", label: "total", gap: "1.0" },
    ],
  },
];

const ROW_H = 59.57;
const PLOT_W = 246;
const PAD = 3;
const AXIS_H = 30;
const FONT = "Lato, 'Open Sans', 'DejaVu Sans', sans-serif";

const STYLE: Record<Kind, { stroke: string; fill: string; width: number }> = {
  as: { stroke: "#1a8cff", fill: "#8adaf7", width: 1.5 },
  fe: { stroke: "#000000", fill: "#bebebe", width: 1.2 },
  tot: { stroke: "#8c8c8c", fill: "#c4c4c4", width: 1.3 },
};

const DosRow = ({ pts, kind, last }: { pts: Pt[]; kind: Kind; last: boolean }) => {
  const data = pts.map(([e, up, dn]) => ({ e, up, dn }));
  const s = STYLE[kind];
  const frame = { stroke: "#000", strokeWidth: 1.5 };
  const tickLine = { stroke: "#000", strokeWidth: 1 };
  return (
    <ComposedChart
      width={PLOT_W + 2 * PAD}
      height={ROW_H + 2 * PAD + (last ? AXIS_H : 0)}
      data={data}
      margin={{ top: PAD, right: PAD, bottom: PAD, left: PAD }}
    >
      <Area xAxisId="b" yAxisId="l" type="linear" dataKey="up" baseValue={0} stroke={s.stroke}
        strokeWidth={s.width} fill={s.fill} fillOpacity={1} dot={false} activeDot={false} isAnimationActive={false} />
      <Area xAxisId="b" yAxisId="l" type="linear" dataKey="dn" baseValue={0} stroke={s.stroke}
        strokeWidth={s.width} fill={s.fill} fillOpacity={1} dot={false} activeDot={false} isAnimationActive={false} />
      <ReferenceLine xAxisId="b" yAxisId="l" y={0} stroke={kind === "as" ? "#0c2f52" : "#000"} strokeWidth={1.5} />
      <ReferenceLine xAxisId="b" yAxisId="l" x={0} stroke="#000" strokeWidth={2.5} />
      <XAxis xAxisId="t" orientation="top" type="number" dataKey="e" domain={[-14, 4]} allowDataOverflow
        ticks={eTicks} interval={0} tick={false} mirror tickSize={3} axisLine={frame} tickLine={tickLine} />
      <XAxis xAxisId="b" orientation="bottom" type="number" dataKey="e" domain={[-14, 4]} allowDataOverflow
        ticks={eTicks} interval={0} mirror={!last} height={last ? AXIS_H : 0} tickSize={last ? 5 : 3}
        tickMargin={1} axisLine={frame} tickLine={tickLine}
        tick={last ? { fontSize: 20, fill: "#000", fontFamily: FONT } : false}
        tickFormatter={(v: number) => (eLabels.includes(v) ? String(v) : "")} />
      <YAxis yAxisId="l" orientation="left" type="number" domain={[-1, 1]} allowDataOverflow ticks={dosTicks}
        interval={0} tick={false} mirror width={0} tickSize={4} axisLine={frame} tickLine={tickLine} />
      <YAxis yAxisId="r" orientation="right" type="number" domain={[-1, 1]} allowDataOverflow ticks={dosTicks}
        interval={0} tick={false} mirror width={0} tickSize={4} axisLine={frame} tickLine={tickLine} />
    </ComposedChart>
  );
};

// title text with lowered, smaller subscript pieces
const Title = ({ x, y, parts }: { x: number; y: number; parts: [string, boolean][] }) => (
  <text x={x} y={y} fontSize={24}>
    {parts.map(([t, sub], i) => {
      const prevSub = i > 0 && parts[i - 1][1];
      const dy = sub ? 6 : prevSub ? -6 : 0;
      return (
        <tspan key={i} dy={dy} fontSize={sub ? 15 : 24}>{t}</tspan>
      );
    })}
  </text>
);

export default function App() {
  return (
    <div style={{ position: "absolute", left: 0, top: 0, width: 1063, height: 510, background: "#fff", overflow: "hidden" }}>
      {panels.map((p, pi) =>
        p.rows.map((r, i) => (
          <div key={`${pi}-${i}`} style={{ position: "absolute", left: p.left - PAD, top: p.top + i * ROW_H - PAD }}>
            <DosRow pts={r.pts} kind={r.kind} last={i === p.rows.length - 1} />
          </div>
        ))
      )}
      <svg width={1063} height={510} style={{ position: "absolute", left: 0, top: 0, pointerEvents: "none" }}
        fontFamily={FONT} fill="#000">
        <text x={62} y={28} fontSize={27}>akaganeite(100)</text>
        <text x={33} y={232} fontSize={31} textAnchor="middle" transform="rotate(-90 33 232)">DOS [arb. units]</text>
        {panels.map((p, pi) => (
          <g key={pi}>
            <Title x={p.titleX} y={p.titleY} parts={p.title} />
            <text x={p.left + 130} y={502} fontSize={28} textAnchor="middle">
              <tspan fontStyle="italic">E</tspan> [eV]
            </text>
            {p.rows.map((r, i) => {
              const y0 = p.top + i * ROW_H;
              const neg = r.mom !== undefined && r.mom.startsWith("-");
              return (
                <g key={i}>
                  <text x={p.left + 8} y={y0 + 26} fontSize={25}>{r.label}</text>
                  {r.s4 && (
                    <>
                      <text x={p.left + r.s4[0]} y={y0 + r.s4[1]} fontSize={18}>4s</text>
                      <text x={p.left + r.s4[2]} y={y0 + r.s4[3]} fontSize={18}>4p</text>
                    </>
                  )}
                  {r.mom && (
                    <text x={p.left + (neg ? 192 : 194)} y={y0 + (neg ? 51 : 22)} fontSize={18}>
                      {r.mom}μ<tspan fontSize={11} dy={4}>B</tspan>
                    </text>
                  )}
                  {r.gap && (
                    <text x={p.left + 113} y={y0 + 56} fontSize={26} textAnchor="middle">Δ={r.gap}eV</text>
                  )}
                </g>
              );
            })}
          </g>
        ))}
      </svg>
    </div>
  );
}
